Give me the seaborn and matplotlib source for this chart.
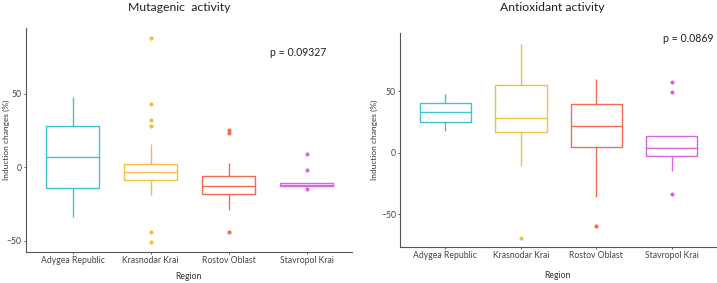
import numpy as np
import pandas as pd
import seaborn as sns
import matplotlib.pyplot as plt

# 地區與顏色
regions = ["Adygea Republic", "Krasnodar Krai", "Rostov Oblast", "Stavropol Krai"]
colors = ["#3FC3CF", "#EEC241", "#F26D4E", "#D867DE"]

# Mutagenic activity (估計值)
mut_adygea = [-34, -22, -14, -3, 7, 18, 28, 38, 48]
mut_krasnodar = [-51, -44, -19, -14, -11, -9, -8, -6, -5, -4, -3.5,
                 -2, -1, 0, 1, 2, 16, 28, 32, 43, 88]
mut_rostov = [-44, -29, -22, -18, -16, -14, -13, -10, -8, -6, 3, 23, 25]
mut_stavropol = [-15, -12.8, -12.5, -12, -12, -11.5, -11, -2, 9]

# Antioxidant activity (估計值)
anti_adygea = [18, 22, 25, 30, 33, 36, 40.5, 44, 48]
anti_krasnodar = [-69, -10.5, 5, 16.5, 20, 25, 28.5, 35, 45, 55, 62, 75, 88]
anti_rostov = [-59.5, -35.7, -10, 4.3, 12, 18, 22, 28, 34, 39.7, 45, 52, 60]
anti_stavropol = [-33, -15, -6, -2.2, 0, 2, 3.8, 6, 10, 14, 14, 49, 57]

p_mut = "p = 0.09327"
p_anti = "p = 0.0869"


def to_long(groups):
    rows = []
    for name, vals in zip(regions, groups):
        for v in vals:
            rows.append({"Region": name, "value": v})
    return pd.DataFrame(rows)


df_mut = to_long([mut_adygea, mut_krasnodar, mut_rostov, mut_stavropol])
df_anti = to_long([anti_adygea, anti_krasnodar, anti_rostov, anti_stavropol])

sns.set_style("white")
plt.rcParams["font.family"] = ["Lato", "DejaVu Sans"]

fig = plt.figure(figsize=(7.17, 2.83), dpi=100)
ax1 = fig.add_axes([0.036, 0.1095, 0.455, 0.79])
ax2 = fig.add_axes([0.558, 0.127, 0.440, 0.756])


def draw(ax, df, title, ptext, ylim, pxy, title_x, xpad, ylab_x):
    sns.boxplot(data=df, x="Region", y="value", hue="Region", order=regions,
                hue_order=regions, palette=colors, fill=False, width=0.68,
                linewidth=1, legend=False, ax=ax, showcaps=False,
                flierprops=dict(marker="o", markersize=2))
    # 實心離群點、箱子線條略淡
    for line in ax.lines:
        if line.get_marker() == "o":
            line.set_markerfacecolor(line.get_markeredgecolor())
    for patch in ax.patches:
        patch.set_alpha(0.75)
    ax.set_xlim(-0.6, 3.58)
    ax.set_ylim(*ylim)
    ax.set_yticks([-50, 0, 50])
    ax.set_xlabel("Region", fontsize=6.2, color="#333333", labelpad=xpad)
    ax.set_ylabel("Induction changes (%)", fontsize=6, color="#333333")
    ax.yaxis.set_label_coords(ylab_x, 0.5)
    ax.tick_params(axis="both", labelsize=6.2, colors="#444444", length=1.5, width=0.6,
                   direction="out", bottom=True, left=True, pad=1.5)
    for s in ["top", "right"]:
        ax.spines[s].set_visible(False)
    for s in ["left", "bottom"]:
        ax.spines[s].set_color("#555555")
        ax.spines[s].set_linewidth(0.8)
    ax.text(pxy[0], pxy[1], ptext, fontsize=7.6, color="#222222", va="center", ha="left")
    fig.text(title_x, 0.972, title, fontsize=8.8, color="#222222", ha="center", va="center")


draw(ax1, df_mut, "Mutagenic  activity", p_mut, (-57.8, 94.5), (2.53, 78), 0.25, 5, -0.047)
draw(ax2, df_anti, "Antioxidant activity", p_anti, (-76.4, 97), (2.88, 93), 0.77, 8, -0.07)

fig.savefig("out.png", dpi=100)
